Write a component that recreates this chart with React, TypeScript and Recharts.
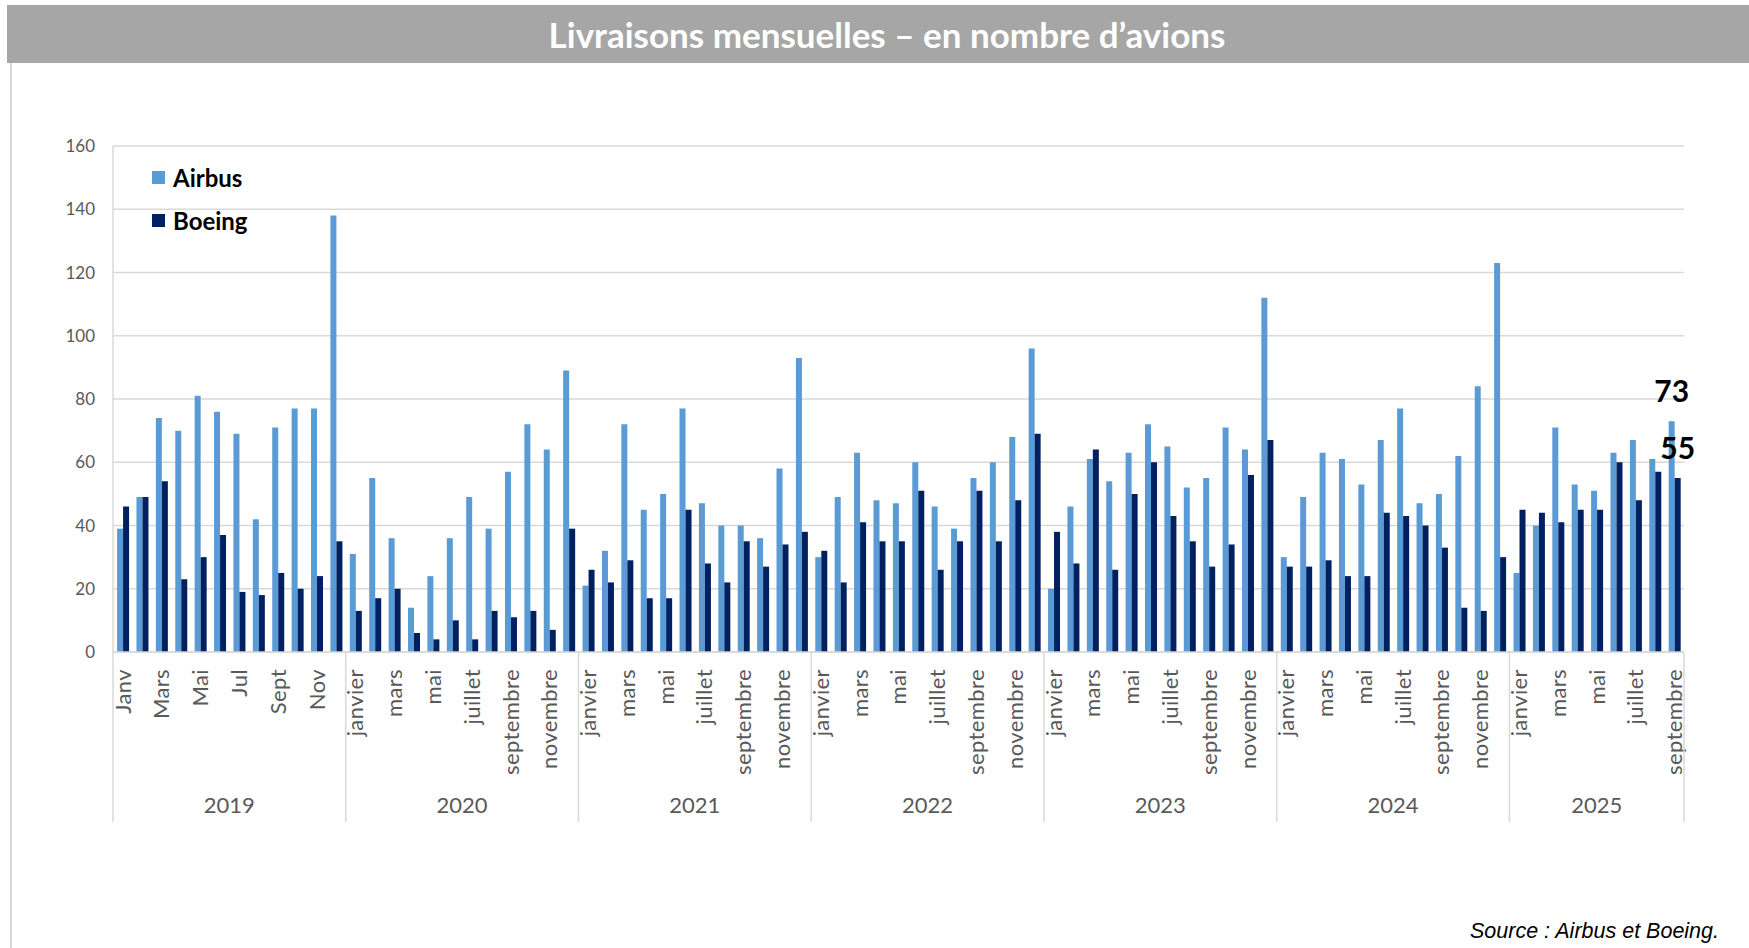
import React from 'react';
import { BarChart, Bar, XAxis, YAxis, CartesianGrid, Legend } from 'recharts';

// one value per month, Jan 2019 -> Sep 2025
const years = [2019, 2020, 2021, 2022, 2023, 2024, 2025];
const months2019 = ['Janv', 'Févr', 'Mars', 'Avr', 'Mai', 'Juin', 'Jul', 'Août', 'Sept', 'Oct', 'Nov', 'Déc'];
const monthsFr = ['janvier', 'février', 'mars', 'avril', 'mai', 'juin', 'juillet', 'août', 'septembre', 'octobre', 'novembre', 'décembre'];

const airbus = [
    39, 49, 74, 70, 81, 76, 69, 42, 71, 77, 77, 138,
    31, 55, 36, 14, 24, 36, 49, 39, 57, 72, 64, 89,
    21, 32, 72, 45, 50, 77, 47, 40, 40, 36, 58, 93,
    30, 49, 63, 48, 47, 60, 46, 39, 55, 60, 68, 96,
    20, 46, 61, 54, 63, 72, 65, 52, 55, 71, 64, 112,
    30, 49, 63, 61, 53, 67, 77, 47, 50, 62, 84, 123,
    25, 40, 71, 53, 51, 63, 67, 61, 73
];
const boeing = [
    46, 49, 54, 23, 30, 37, 19, 18, 25, 20, 24, 35,
    13, 17, 20, 6, 4, 10, 4, 13, 11, 13, 7, 39,
    26, 22, 29, 17, 17, 45, 28, 22, 35, 27, 34, 38,
    32, 22, 41, 35, 35, 51, 26, 35, 51, 35, 48, 69,
    38, 28, 64, 26, 50, 60, 43, 35, 27, 34, 56, 67,
    27, 27, 29, 24, 24, 44, 43, 40, 33, 14, 13, 30,
    45, 44, 41, 45, 45, 60, 48, 57, 55
];
const yTicks = [0, 20, 40, 60, 80, 100, 120, 140, 160];

const W = 1749;
const H = 948;
const margin = { top: 146, right: 65, left: 13, bottom: 116 };
const Y_AXIS_W = 100;
const X_AXIS_H = 180;
const PLOT_W = W - margin.left - margin.right - Y_AXIS_W;

const GRAY_TEXT = '#595959';
const GRID = '#D9D9D9';

const data = airbus.map((a, i) => {
    const year = years[Math.floor(i / 12)];
    const m = i % 12;
    return {
        key: `${year}-${m + 1}`,
        year,
        m,
        label: year === 2019 ? months2019[m] : monthsFr[m],
        airbus: a,
        boeing: boeing[i]
    };
});
const indexByKey: Record<string, number> = {};
data.forEach((d, i) => { indexByKey[d.key] = i; });

const MonthTick = (props: any) => {
    const { x, y, payload } = props;
    const i = indexByKey[payload.value];
    const d = data[i];
    const bw = PLOT_W / data.length;
    const n = data.filter((r) => r.year === d.year).length;
    return (
        <g>
            {d.m % 2 === 0 && (
                <text
                    transform={`translate(${x},${y + 17}) rotate(-90)`}
                    textAnchor="end"
                    dy="0.36em"
                    fill={GRAY_TEXT}
                    fontFamily="Lato"
                    fontSize={22}
                    letterSpacing={0.4}
                >
                    {d.label}
                </text>
            )}
            {d.m === 0 && (
                <>
                    <line x1={x - bw / 2} x2={x - bw / 2} y1={y} y2={y + 170} stroke={GRID} strokeWidth={1.5} />
                    <text
                        x={x - bw / 2 + (n * bw) / 2}
                        y={y + 161}
                        textAnchor="middle"
                        fill={GRAY_TEXT}
                        fontFamily="Lato"
                        fontSize={22}
                    >
                        {d.year}
                    </text>
                </>
            )}
            {i === data.length - 1 && (
                <line x1={x + bw / 2} x2={x + bw / 2} y1={y} y2={y + 170} stroke={GRID} strokeWidth={1.5} />
            )}
        </g>
    );
};

const lastLabel = (props: any) => {
    const { x, y, width, value, index } = props;
    if (index !== data.length - 1) return null;
    return (
        <text x={x + width / 2} y={y - 19} textAnchor="middle" fill="#000" fontFamily="Lato" fontWeight={700} fontSize={30}>
            {value}
        </text>
    );
};

const renderLegend = (props: any) => {
    const { payload } = props;
    return (
        <div>
            {payload.map((p: any) => (
                <div
                    key={p.value}
                    style={{ display: 'flex', alignItems: 'center', height: 43, fontFamily: 'Lato', fontWeight: 700, fontSize: 24, color: '#000' }}
                >
                    <span style={{ display: 'inline-block', width: 13, height: 13, background: p.color, marginRight: 8 }} />
                    {p.value}
                </div>
            ))}
        </div>
    );
};

export default function App() {
    return (
        <div style={{ position: 'relative', width: W, height: H, background: '#fff', overflow: 'hidden' }}>
            <style>{'body{margin:0}'}</style>
            <div
                style={{
                    position: 'absolute', left: 7, top: 5, width: W - 7, height: 58, background: '#A6A6A6',
                    color: '#fff', fontFamily: 'Lato', fontWeight: 700, fontSize: 35, lineHeight: '58px',
                    textAlign: 'center', paddingLeft: 18, boxSizing: 'border-box'
                }}
            >
                Livraisons mensuelles – en nombre d’avions
            </div>
            <div style={{ position: 'absolute', left: 10, top: 63, width: 1.5, height: H - 63, background: GRID }} />
            <BarChart width={W} height={H} data={data} margin={margin} barCategoryGap="21%" barGap={0}>
                <CartesianGrid vertical={false} stroke={GRID} strokeWidth={1.5} />
                <XAxis
                    dataKey="key"
                    interval={0}
                    height={X_AXIS_H}
                    tickSize={0}
                    tickMargin={0}
                    tickLine={false}
                    axisLine={{ stroke: GRID, strokeWidth: 1.5 }}
                    tick={<MonthTick />}
                />
                <YAxis
                    domain={[0, 160]}
                    ticks={yTicks}
                    width={Y_AXIS_W}
                    tickSize={0}
                    tickMargin={18}
                    tickLine={false}
                    axisLine={{ stroke: GRID, strokeWidth: 1.5 }}
                    tick={{ fill: GRAY_TEXT, fontFamily: 'Lato', fontSize: 17 }}
                />
                <Legend
                    layout="vertical"
                    align="center"
                    verticalAlign="middle"
                    wrapperStyle={{ left: 152, top: 156, width: 'auto' }}
                    content={renderLegend}
                />
                <Bar dataKey="airbus" name="Airbus" fill="#5B9BD5" isAnimationActive={false} label={lastLabel} />
                <Bar dataKey="boeing" name="Boeing" fill="#002060" isAnimationActive={false} label={lastLabel} />
            </BarChart>
            <div
                style={{
                    position: 'absolute', right: 30, top: 919, fontFamily: '"Liberation Sans", Arial, sans-serif',
                    fontStyle: 'italic', fontSize: 21.5, color: '#000'
                }}
            >
                Source : Airbus et Boeing.
            </div>
        </div>
    );
}
